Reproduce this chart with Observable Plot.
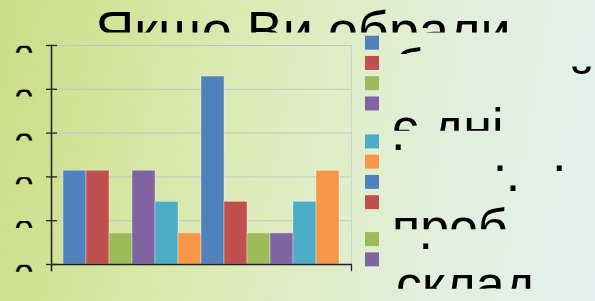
<!DOCTYPE html>
<html><head><meta charset="utf-8">
<script src="https://cdn.jsdelivr.net/npm/d3@7"></script>
<script src="https://cdn.jsdelivr.net/npm/@observablehq/plot@0.6"></script>
<style>
html,body{margin:0;padding:0;}
#wrap{position:relative;width:595px;height:301px;overflow:hidden;
  background:linear-gradient(100deg,#cadd84 0%,#d6e6a3 25%,#dfecc2 50%,#e1efdb 72%,#e2f1ef 100%);
  font-family:"Liberation Sans",Arial,sans-serif;}
#wrap svg{position:absolute;left:0;top:0;}
</style></head><body><div id="wrap"></div>
<script>
// ---- data ----
const seriesNames = ["Ряд 1","Ряд 2","Ряд 3","Ряд 4","Ряд 5","Ряд 6","Ряд 7","Ряд 8","Ряд 9","Ряд 10","Ряд 11","Ряд 12"];
const seriesValues = [21.4, 21.4, 7.1, 21.4, 14.3, 7.1, 42.9, 14.3, 7.1, 7.1, 14.3, 21.4];
const seriesColors = ["#4F81BD","#C0504D","#9BBB59","#8064A2","#4BACC6","#F79646","#4F81BD","#C0504D","#9BBB59","#8064A2","#4BACC6","#F79646"];
const yTicks = [0, 10, 20, 30, 40, 50];
const yTickLabels = ["0", "10", "20", "30", "40", "50"];
const titleText = "Якщо Ви обрали";
const legendWords = ["б", "й", "є дні", ".", ".", ".", ".", "проб", ".", "склад"];

// ---- chart ----
const W = 595, H = 301, mL = 51, mR = 244, mT = 45, mB = 37;
const data = seriesNames.map((s, i) => ({series: s, value: seriesValues[i]}));
const FONT = "Liberation Sans, Arial, sans-serif";
const NS = "http://www.w3.org/2000/svg";

const chart = Plot.plot({
  width: W, height: H, marginLeft: mL, marginRight: mR, marginTop: mT, marginBottom: mB,
  style: {background: "transparent", fontFamily: FONT, overflow: "visible"},
  x: {domain: seriesNames, paddingInner: 0, paddingOuter: 0.466, axis: null},
  y: {domain: [0, 50], axis: null},
  color: {domain: seriesNames, range: seriesColors},
  marks: [
    Plot.frame({stroke: "#d0d0d0"}),
    Plot.gridY(yTicks.slice(1), {stroke: "#c4c4c4", strokeOpacity: 1}),
    Plot.barY(data, {x: "series", y: "value", fill: "series", stroke: "#ffffff", strokeOpacity: 0.35, strokeWidth: 1}),
    Plot.ruleY([0], {stroke: "#1e1e1e", strokeWidth: 1.6}),
    Plot.frame({anchor: "left", stroke: "#262626", strokeWidth: 1.6, insetBottom: -6}),
    Plot.frame({anchor: "right", stroke: "#262626", strokeWidth: 1.3, insetTop: H - mT - mB, insetBottom: -6}),
    Plot.axisY({ticks: yTicks, tickSize: 11, dx: 6, stroke: "#262626", strokeWidth: 1.3, fill: "none", label: null}),
    Plot.axisY({ticks: yTicks, tickSize: 0, tickPadding: 17.5, tickFormat: d => yTickLabels[yTicks.indexOf(d)],
      fontSize: 36, lineAnchor: "top", fill: "#000", label: null})
  ]
});
document.getElementById("wrap").appendChild(chart);

// clip the oversized tick labels to small windows just below each tick
try {
  const root = chart.tagName.toLowerCase() === "svg" ? chart : chart.querySelector("svg");
  const ys = chart.scale("y");
  const defsEl = document.createElementNS(NS, "defs");
  root.insertBefore(defsEl, root.firstChild);
  const cpEl = document.createElementNS(NS, "clipPath");
  cpEl.setAttribute("id", "ylabbands");
  defsEl.appendChild(cpEl);
  yTicks.forEach(t => {
    const r = document.createElementNS(NS, "rect");
    r.setAttribute("x", 13); r.setAttribute("y", ys.apply(t) + 0.8);
    r.setAttribute("width", 22); r.setAttribute("height", 7);
    cpEl.appendChild(r);
  });
  const texts = Array.from(root.querySelectorAll("text")).filter(n => yTickLabels.includes(n.textContent.trim()));
  const groups = Array.from(new Set(texts.map(n => n.parentNode)));
  groups.forEach(g => {
    const w = document.createElementNS(NS, "g");
    w.setAttribute("clip-path", "url(#ylabbands)");
    root.appendChild(w);
    w.appendChild(g);
  });
} catch (e) { /* leave labels unclipped */ }

// ---- title & legend overlay ----
const ov = d3.select("#wrap").append("svg").attr("width", W).attr("height", H)
  .style("font-family", FONT).style("pointer-events", "none");
const odefs = ov.append("defs");
let cid = 0;
function clip(y0, y1) {
  const id = "oc" + (cid++);
  odefs.append("clipPath").attr("id", id).append("rect")
    .attr("x", 0).attr("y", y0).attr("width", W).attr("height", y1 - y0);
  return `url(#${id})`;
}
ov.append("text").attr("x", 303).attr("y", 48.5).attr("text-anchor", "middle")
  .attr("font-size", 54).attr("fill", "#000").attr("clip-path", clip(0, 32.5)).text(titleText);

// legend keys
const legendY = i => 35.7 + i * 20.25 + (i >= 4 ? 17.7 : 0) + (i >= 8 ? 16.7 : 0);
const keys = ov.append("g").attr("clip-path", clip(0, 270));
keys.selectAll("rect").data(seriesColors).join("rect")
  .attr("x", 365).attr("y", (d, i) => legendY(i)).attr("width", 14).attr("height", 14).attr("fill", d => d);

// legend text fragments (oversized text, clipped)
const frag = [
  {x: 394, y: 85, a: "start", c: [44, 54]},
  {x: 581.5, y: 105, a: "middle", c: [63, 76]},
  {x: 392, y: 145, a: "start", c: [100, 130.7]},
  {x: 398.2, y: 150.2, a: "middle", c: null},
  {x: 500, y: 171, a: "middle", c: null},
  {x: 559.3, y: 171, a: "middle", c: null},
  {x: 513, y: 190.7, a: "middle", c: null},
  {x: 392, y: 245.3, a: "start", c: [200, 229.3]},
  {x: 425.7, y: 248.9, a: "middle", c: null},
  {x: 396, y: 302, a: "start", c: [270, 288.7]}
];
legendWords.forEach((w, i) => {
  const f = frag[i];
  const t = ov.append("text").attr("x", f.x).attr("y", f.y).attr("text-anchor", f.a)
    .attr("font-size", 52).attr("fill", "#000").text(w);
  if (f.c) t.attr("clip-path", clip(f.c[0], f.c[1]));
});
</script>
</body></html>
